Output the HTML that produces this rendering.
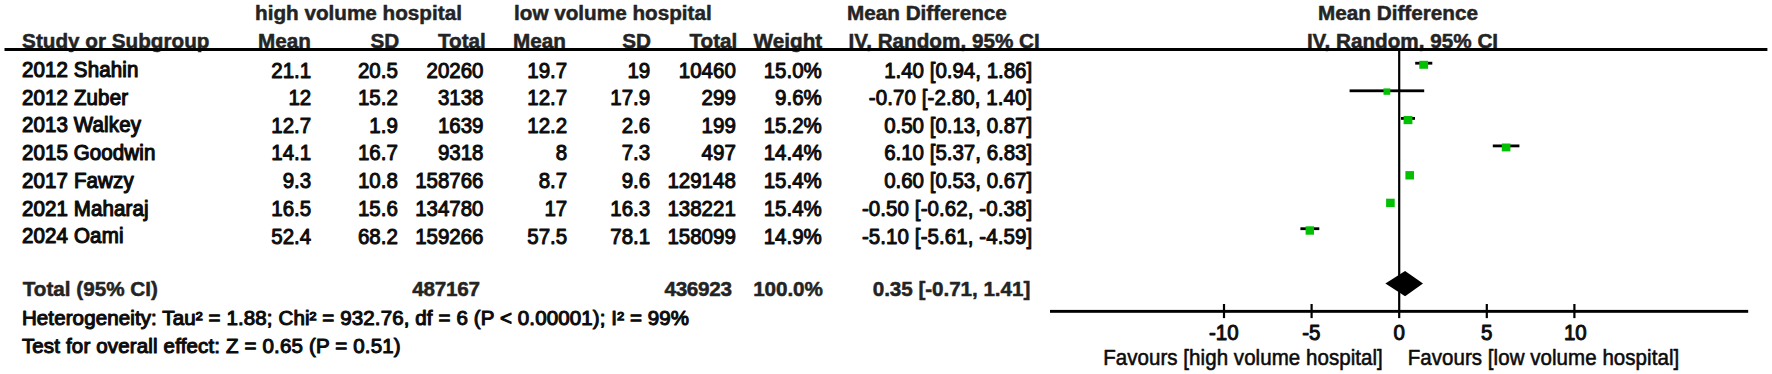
<!DOCTYPE html>
<html lang="en"><head><meta charset="utf-8"><title>Forest plot</title>
<style>
html,body{margin:0;padding:0;background:#fff;}
body{width:1772px;height:374px;overflow:hidden;}
svg{display:block;}
text{font-family:"Liberation Sans",sans-serif;font-size:20.5px;fill:#0c0c0c;stroke:#0c0c0c;stroke-width:1.1px;stroke-linejoin:round;}
.b{font-weight:700;font-size:20.7px;fill:#242424;stroke:#242424;stroke-width:0.5px;}
.r{text-anchor:end;}
.c{text-anchor:middle;}
</style></head><body>
<svg width="1772" height="374" viewBox="0 0 1772 374">
<rect x="0" y="0" width="1772" height="374" fill="#ffffff"/>
<text class="b" x="255.00" y="20.10">high volume hospital</text>
<text class="b" x="514.00" y="20.10">low volume hospital</text>
<text class="b" x="847.00" y="20.10">Mean Difference</text>
<text class="b c" x="1398.00" y="20.10">Mean Difference</text>
<text class="b" x="22.10" y="47.80">Study or Subgroup</text>
<text class="b r" x="311.00" y="47.80">Mean</text>
<text class="b r" x="399.30" y="47.80">SD</text>
<text class="b r" x="485.80" y="47.80">Total</text>
<text class="b r" x="566.00" y="47.80">Mean</text>
<text class="b r" x="651.00" y="47.80">SD</text>
<text class="b r" x="737.30" y="47.80">Total</text>
<text class="b r" x="822.20" y="47.80">Weight</text>
<text class="b" x="848.50" y="47.80">IV, Random, 95% CI</text>
<text class="b c" x="1402.50" y="47.80">IV, Random, 95% CI</text>
<rect x="4.5" y="48.0" width="1762.9" height="3.0" fill="#000"/>
<text textLength="116.40" lengthAdjust="spacing" transform="translate(21.90 77.30) scale(1 1.055)">2012 Shahin</text>
<text class="r" style="stroke-width:0.95px" transform="translate(311.20 77.60) scale(1 1.05)">21.1</text>
<text class="r" style="stroke-width:0.95px" transform="translate(397.80 77.60) scale(1 1.05)">20.5</text>
<text class="r" style="stroke-width:0.95px" transform="translate(483.50 77.60) scale(1 1.05)">20260</text>
<text class="r" style="stroke-width:0.95px" transform="translate(567.20 77.60) scale(1 1.05)">19.7</text>
<text class="r" style="stroke-width:0.95px" transform="translate(650.20 77.60) scale(1 1.05)">19</text>
<text class="r" style="stroke-width:0.95px" transform="translate(735.80 77.60) scale(1 1.05)">10460</text>
<text class="r" style="stroke-width:0.95px" transform="translate(821.80 77.60) scale(1 1.05)">15.0%</text>
<text class="r" style="stroke-width:0.95px" transform="translate(1032.20 77.60) scale(1 1.05)">1.40 [0.94, 1.86]</text>
<text textLength="106.12" lengthAdjust="spacing" transform="translate(21.90 105.00) scale(1 1.055)">2012 Zuber</text>
<text class="r" style="stroke-width:0.95px" transform="translate(311.20 105.30) scale(1 1.05)">12</text>
<text class="r" style="stroke-width:0.95px" transform="translate(397.80 105.30) scale(1 1.05)">15.2</text>
<text class="r" style="stroke-width:0.95px" transform="translate(483.50 105.30) scale(1 1.05)">3138</text>
<text class="r" style="stroke-width:0.95px" transform="translate(567.20 105.30) scale(1 1.05)">12.7</text>
<text class="r" style="stroke-width:0.95px" transform="translate(650.20 105.30) scale(1 1.05)">17.9</text>
<text class="r" style="stroke-width:0.95px" transform="translate(735.80 105.30) scale(1 1.05)">299</text>
<text class="r" style="stroke-width:0.95px" transform="translate(821.80 105.30) scale(1 1.05)">9.6%</text>
<text class="r" textLength="163.40" lengthAdjust="spacing" style="stroke-width:0.95px" transform="translate(1032.20 105.30) scale(1 1.05)">-0.70 [-2.80, 1.40]</text>
<text textLength="119.01" lengthAdjust="spacing" transform="translate(21.90 132.35) scale(1 1.055)">2013 Walkey</text>
<text class="r" style="stroke-width:0.95px" transform="translate(311.20 132.65) scale(1 1.05)">12.7</text>
<text class="r" style="stroke-width:0.95px" transform="translate(397.80 132.65) scale(1 1.05)">1.9</text>
<text class="r" style="stroke-width:0.95px" transform="translate(483.50 132.65) scale(1 1.05)">1639</text>
<text class="r" style="stroke-width:0.95px" transform="translate(567.20 132.65) scale(1 1.05)">12.2</text>
<text class="r" style="stroke-width:0.95px" transform="translate(650.20 132.65) scale(1 1.05)">2.6</text>
<text class="r" style="stroke-width:0.95px" transform="translate(735.80 132.65) scale(1 1.05)">199</text>
<text class="r" style="stroke-width:0.95px" transform="translate(821.80 132.65) scale(1 1.05)">15.2%</text>
<text class="r" style="stroke-width:0.95px" transform="translate(1032.20 132.65) scale(1 1.05)">0.50 [0.13, 0.87]</text>
<text textLength="133.47" lengthAdjust="spacing" transform="translate(21.90 160.10) scale(1 1.055)">2015 Goodwin</text>
<text class="r" style="stroke-width:0.95px" transform="translate(311.20 160.40) scale(1 1.05)">14.1</text>
<text class="r" style="stroke-width:0.95px" transform="translate(397.80 160.40) scale(1 1.05)">16.7</text>
<text class="r" style="stroke-width:0.95px" transform="translate(483.50 160.40) scale(1 1.05)">9318</text>
<text class="r" style="stroke-width:0.95px" transform="translate(567.20 160.40) scale(1 1.05)">8</text>
<text class="r" style="stroke-width:0.95px" transform="translate(650.20 160.40) scale(1 1.05)">7.3</text>
<text class="r" style="stroke-width:0.95px" transform="translate(735.80 160.40) scale(1 1.05)">497</text>
<text class="r" style="stroke-width:0.95px" transform="translate(821.80 160.40) scale(1 1.05)">14.4%</text>
<text class="r" style="stroke-width:0.95px" transform="translate(1032.20 160.40) scale(1 1.05)">6.10 [5.37, 6.83]</text>
<text textLength="111.80" lengthAdjust="spacing" transform="translate(21.90 187.60) scale(1 1.055)">2017 Fawzy</text>
<text class="r" style="stroke-width:0.95px" transform="translate(311.20 187.90) scale(1 1.05)">9.3</text>
<text class="r" style="stroke-width:0.95px" transform="translate(397.80 187.90) scale(1 1.05)">10.8</text>
<text class="r" style="stroke-width:0.95px" transform="translate(483.50 187.90) scale(1 1.05)">158766</text>
<text class="r" style="stroke-width:0.95px" transform="translate(567.20 187.90) scale(1 1.05)">8.7</text>
<text class="r" style="stroke-width:0.95px" transform="translate(650.20 187.90) scale(1 1.05)">9.6</text>
<text class="r" style="stroke-width:0.95px" transform="translate(735.80 187.90) scale(1 1.05)">129148</text>
<text class="r" style="stroke-width:0.95px" transform="translate(821.80 187.90) scale(1 1.05)">15.4%</text>
<text class="r" style="stroke-width:0.95px" transform="translate(1032.20 187.90) scale(1 1.05)">0.60 [0.53, 0.67]</text>
<text textLength="126.63" lengthAdjust="spacing" transform="translate(21.90 215.50) scale(1 1.055)">2021 Maharaj</text>
<text class="r" style="stroke-width:0.95px" transform="translate(311.20 215.80) scale(1 1.05)">16.5</text>
<text class="r" style="stroke-width:0.95px" transform="translate(397.80 215.80) scale(1 1.05)">15.6</text>
<text class="r" style="stroke-width:0.95px" transform="translate(483.50 215.80) scale(1 1.05)">134780</text>
<text class="r" style="stroke-width:0.95px" transform="translate(567.20 215.80) scale(1 1.05)">17</text>
<text class="r" style="stroke-width:0.95px" transform="translate(650.20 215.80) scale(1 1.05)">16.3</text>
<text class="r" style="stroke-width:0.95px" transform="translate(735.80 215.80) scale(1 1.05)">138221</text>
<text class="r" style="stroke-width:0.95px" transform="translate(821.80 215.80) scale(1 1.05)">15.4%</text>
<text class="r" textLength="170.30" lengthAdjust="spacing" style="stroke-width:0.95px" transform="translate(1032.20 215.80) scale(1 1.05)">-0.50 [-0.62, -0.38]</text>
<text textLength="101.55" lengthAdjust="spacing" transform="translate(21.90 243.35) scale(1 1.055)">2024 Oami</text>
<text class="r" style="stroke-width:0.95px" transform="translate(311.20 243.65) scale(1 1.05)">52.4</text>
<text class="r" style="stroke-width:0.95px" transform="translate(397.80 243.65) scale(1 1.05)">68.2</text>
<text class="r" style="stroke-width:0.95px" transform="translate(483.50 243.65) scale(1 1.05)">159266</text>
<text class="r" style="stroke-width:0.95px" transform="translate(567.20 243.65) scale(1 1.05)">57.5</text>
<text class="r" style="stroke-width:0.95px" transform="translate(650.20 243.65) scale(1 1.05)">78.1</text>
<text class="r" style="stroke-width:0.95px" transform="translate(735.80 243.65) scale(1 1.05)">158099</text>
<text class="r" style="stroke-width:0.95px" transform="translate(821.80 243.65) scale(1 1.05)">14.9%</text>
<text class="r" textLength="170.30" lengthAdjust="spacing" style="stroke-width:0.95px" transform="translate(1032.20 243.65) scale(1 1.05)">-5.10 [-5.61, -4.59]</text>
<text class="b" x="22.70" y="296.00">Total (95% CI)</text>
<text class="b r" textLength="67.70" lengthAdjust="spacing" x="479.90" y="296.00">487167</text>
<text class="b r" textLength="67.70" lengthAdjust="spacing" x="732.10" y="296.00">436923</text>
<text class="b r" textLength="69.60" lengthAdjust="spacing" x="822.80" y="296.00">100.0%</text>
<text class="b r" textLength="157.60" lengthAdjust="spacing" x="1030.30" y="296.00">0.35 [-0.71, 1.41]</text>
<text textLength="667.20" lengthAdjust="spacing" transform="translate(21.90 325.10) scale(1 0.95)">Heterogeneity: Tau² = 1.88; Chi² = 932.76, df = 6 (P &lt; 0.00001); I² = 99%</text>
<text textLength="378.70" lengthAdjust="spacing" transform="translate(21.90 353.20) scale(1 0.975)">Test for overall effect: Z = 0.65 (P = 0.51)</text>
<g>
<rect x="1398.1" y="50" width="2.2" height="268.1" fill="#000"/>
<rect x="1050" y="309.9" width="698.2" height="2.9" fill="#000"/>
<rect x="1222.9" y="304" width="2.2" height="14.1" fill="#000"/>
<rect x="1310.5" y="304" width="2.2" height="14.1" fill="#000"/>
<rect x="1485.7" y="304" width="2.2" height="14.1" fill="#000"/>
<rect x="1573.3" y="304" width="2.2" height="14.1" fill="#000"/>
<text class="c" style="stroke-width:0.95px" transform="translate(1223.80 339.80) scale(1 1.05)">-10</text>
<text class="c" style="stroke-width:0.95px" transform="translate(1311.40 339.80) scale(1 1.05)">-5</text>
<text class="c" style="stroke-width:0.95px" transform="translate(1399.20 339.80) scale(1 1.05)">0</text>
<text class="c" style="stroke-width:0.95px" transform="translate(1486.80 339.80) scale(1 1.05)">5</text>
<text class="c" style="stroke-width:0.95px" transform="translate(1575.30 339.80) scale(1 1.05)">10</text>
<text textLength="279.60" lengthAdjust="spacing" style="stroke-width:0.55px" transform="translate(1103.20 364.90) scale(1 1.07)">Favours [high volume hospital]</text>
<text textLength="271.50" lengthAdjust="spacing" style="stroke-width:0.55px" transform="translate(1407.70 364.90) scale(1 1.07)">Favours [low volume hospital]</text>
<rect x="1415.2" y="61.8" width="17.1" height="2.8" fill="#000"/>
<rect x="1419.3" y="60.8" width="8.8" height="8.0" fill="#04c004"/>
<rect x="1349.6" y="89.4" width="74.6" height="2.8" fill="#000"/>
<rect x="1383.5" y="88.4" width="6.8" height="6.4" fill="#04c004"/>
<rect x="1401.0" y="117.0" width="14.0" height="2.8" fill="#000"/>
<rect x="1403.6" y="116.0" width="8.8" height="8.2" fill="#04c004"/>
<rect x="1492.8" y="144.5" width="26.6" height="2.8" fill="#000"/>
<rect x="1501.8" y="143.5" width="8.6" height="7.9" fill="#04c004"/>
<rect x="1408.0" y="172.1" width="3.5" height="2.8" fill="#000"/>
<rect x="1405.4" y="171.1" width="8.6" height="8.4" fill="#04c004"/>
<rect x="1387.8" y="199.7" width="5.2" height="2.8" fill="#000"/>
<rect x="1386.1" y="198.7" width="8.6" height="8.4" fill="#04c004"/>
<rect x="1300.4" y="227.3" width="18.9" height="2.8" fill="#000"/>
<rect x="1305.6" y="226.3" width="8.4" height="8.4" fill="#04c004"/>
<polygon points="1385.4,283.6 1405.1,271 1423.0,283.6 1405.1,296.3" fill="#000"/>
</g>
</svg></body></html>
